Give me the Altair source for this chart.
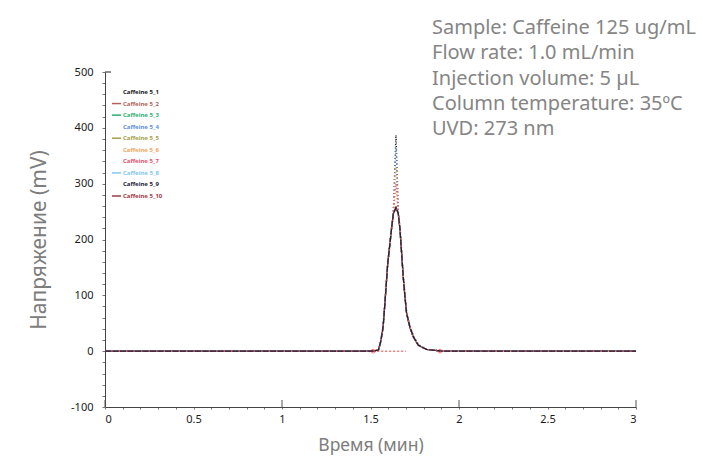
import altair as alt
import pandas as pd

# ---------------- data ----------------
names = ["Caffeine 5_1", "Caffeine 5_2", "Caffeine 5_3", "Caffeine 5_4", "Caffeine 5_5",
         "Caffeine 5_6", "Caffeine 5_7", "Caffeine 5_8", "Caffeine 5_9", "Caffeine 5_10"]

time = [0.0, 1.50, 1.52, 1.545, 1.557, 1.567, 1.572, 1.582, 1.597, 1.61, 1.62, 1.629, 1.644,
        1.657, 1.667, 1.676, 1.685, 1.695, 1.704, 1.723, 1.742, 1.77, 1.817, 1.893, 1.92, 3.0]

s1 = [0, 0, 0.5, 2, 16, 34, 46, 88, 155, 193, 222, 246, 387, 247, 217, 175, 133, 97, 68, 43, 26, 11, 3, 0.5, 0, 0]
s2 = [0, 0, 0.4, 2, 15, 33, 45, 87, 154, 192, 221, 245, 256, 246, 216, 174, 132, 96, 67, 42, 25, 11, 3, 0.5, 0, 0]
s3 = [0, 0, 0.5, 2, 16, 34, 46, 89, 156, 194, 223, 247, 258, 248, 218, 176, 134, 98, 68, 43, 26, 11, 3, 0.5, 0, 0]
s4 = [0, 0, 0.5, 2, 16, 34, 47, 89, 156, 193, 223, 246, 365, 247, 217, 175, 133, 97, 68, 43, 26, 11, 3, 0.5, 0, 0]
s5 = [0, 0, 0.4, 2, 15, 33, 45, 88, 155, 192, 222, 246, 257, 246, 216, 175, 132, 96, 67, 42, 26, 11, 3, 0.5, 0, 0]
s6 = [0, 0, 0.5, 2, 16, 34, 46, 88, 155, 193, 222, 246, 330, 247, 217, 175, 133, 97, 68, 43, 26, 11, 3, 0.5, 0, 0]
s7 = [0, 0, 0.6, 3, 19, 37, 50, 92, 160, 197, 226, 249, 300, 250, 221, 180, 138, 101, 71, 45, 28, 12, 3, 0.6, 0, 0]
s8 = [0, 0, 0.5, 2, 16, 34, 46, 88, 155, 193, 222, 246, 257, 247, 217, 175, 133, 97, 68, 43, 26, 11, 3, 0.5, 0, 0]
s9 = [0, 0, 0.5, 2, 16, 34, 46, 88, 155, 193, 222, 246, 257, 247, 217, 175, 133, 97, 68, 43, 26, 11, 3, 0.5, 0, 0]
s10 = [0, 0, 0.6, 2.5, 18, 35, 48, 90, 157, 195, 224, 247, 258, 246, 215, 172, 130, 95, 66, 42, 25, 10, 3, 0.5, 0, 0]
series_values = [s1, s2, s3, s4, s5, s6, s7, s8, s9, s10]

# integration baseline (peak start / end)
peak_start = [1.515]
peak_end = [1.70]
peak_marks = [1.515, 1.893]

x_ticks = [round(i * 0.1, 1) for i in range(0, 31)]
x_major = [0, 1, 2, 3]
y_ticks = list(range(-100, 501, 20))

info_text = ["Sample: Caffeine 125 ug/mL", "Flow rate: 1.0 mL/min", "Injection volume: 5 µL",
             "Column temperature: 35ºC", "UVD: 273 nm"]

# ---------------- styles ----------------
colors = ["#151515", "#b45f5a", "#2fae72", "#5b8fdc", "#a3a046",
          "#f4a55c", "#ea4f6c", "#7fc8f2", "#20203a", "#a23848"]
dotted = [True, False, False, True, False, True, True, False, False, False]

rows = []
for n, vals in zip(names, series_values):
    for t, v in zip(time, vals):
        rows.append({"t": t, "v": v, "series": n})
df = pd.DataFrame(rows)

cscale = alt.Scale(domain=names, range=colors)
xscale = alt.Scale(domain=[0, 3], nice=False)
yscale = alt.Scale(domain=[-100, 500], nice=False)

solid_names = [n for n, d in zip(names, dotted) if not d and n != "Caffeine 5_9"]
dot_names = [n for n, d in zip(names, dotted) if d]

label_expr_x = "(round(datum.value*10) % 5 == 0) ? '' + round(datum.value*10)/10 : ''"
label_expr_y = "(round(datum.value) % 100 == 0) ? '' + round(datum.value) : ''"

x_axis = alt.Axis(values=x_ticks, labelExpr=label_expr_x, title="Время (мин)",
                  grid=False, tickSize=2, labelOverlap=False, labelPadding=4,
                  labelFontSize=11, labelFont="Noto Sans", labelColor="#1a1a1a",
                  titleFontSize=17.5, titleFont="Noto Sans", titleColor="#7d7d7d",
                  titleFontWeight="normal", titlePadding=12,
                  domainColor="#444", tickColor="#777")
y_axis = alt.Axis(values=y_ticks, labelExpr=label_expr_y, title="Напряжение (mV)",
                  grid=False, tickSize=3, labelOverlap=False, labelPadding=9,
                  labelFontSize=11, labelFont="Noto Sans", labelColor="#1a1a1a",
                  titleFontSize=21, titleFont="Noto Sans", titleColor="#7d7d7d",
                  titleFontWeight="normal", titlePadding=21,
                  domainColor="#444", tickColor="#777")

base = alt.Chart(df).encode(
    x=alt.X("t:Q", scale=xscale, axis=x_axis),
    y=alt.Y("v:Q", scale=yscale, axis=y_axis),
    color=alt.Color("series:N", scale=cscale, legend=None),
    detail="series:N",
)

solid_layer = base.transform_filter(
    alt.FieldOneOfPredicate(field="series", oneOf=solid_names)
).mark_line(strokeWidth=1.2)

dot_layer = base.transform_filter(
    alt.FieldOneOfPredicate(field="series", oneOf=dot_names)
).mark_line(strokeWidth=1.5, strokeDash=[1, 2.5])

top_layer = base.transform_filter(
    alt.datum.series == "Caffeine 5_9"
).mark_line(strokeWidth=1.2, strokeDash=[6, 1.5])

# integration baseline
ib = alt.Chart(pd.DataFrame({"t": peak_start, "t2": peak_end, "v": [0]})).mark_rule(
    color="#ff3030", strokeDash=[2, 2], strokeWidth=1
).encode(x=alt.X("t:Q", scale=xscale, axis=x_axis), x2="t2:Q",
         y=alt.Y("v:Q", scale=yscale, axis=y_axis))

im = alt.Chart(pd.DataFrame({"t": peak_marks, "v": [0, 0]})).mark_point(
    color="#ff3030", size=14, filled=False, strokeWidth=1
).encode(x=alt.X("t:Q", scale=xscale, axis=x_axis), y=alt.Y("v:Q", scale=yscale, axis=y_axis))

# inward major ticks
xt = alt.Chart(pd.DataFrame({"t": x_major})).mark_rule(color="#555", strokeWidth=1).encode(
    x=alt.X("t:Q", scale=xscale, axis=x_axis), y=alt.value(335), y2=alt.value(328))
yt = alt.Chart(pd.DataFrame({"v": [500]})).mark_rule(color="#444", strokeWidth=1.2).encode(
    y=alt.Y("v:Q", scale=yscale, axis=y_axis), x=alt.value(0), x2=alt.value(6))

# manual legend
leg_df = pd.DataFrame({"row": list(range(10)), "label": names, "color": colors,
                       "line": [not d and n != "Caffeine 5_9" for n, d in zip(names, dotted)]})
leg_y = alt.Y("row:Q", scale=alt.Scale(domain=[0, 9], range=[20, 124]), axis=None)
leg_lines = alt.Chart(leg_df).transform_filter(alt.datum.line).mark_rule(strokeWidth=1.5).encode(
    y=leg_y, x=alt.value(7), x2=alt.value(16), color=alt.Color("color:N", scale=None))
leg_text = alt.Chart(leg_df).mark_text(align="left", baseline="middle", fontSize=6,
                                       font="Noto Sans", fontWeight="bold").encode(
    y=leg_y, x=alt.value(18), text="label:N", color=alt.Color("color:N", scale=None))

# info text
info = alt.Chart(pd.DataFrame({"txt": ["\n".join(info_text)]})).mark_text(
    align="left", baseline="top", fontSize=20, font="Noto Sans", color="#858585",
    lineBreak="\n", lineHeight=25.3
).encode(text="txt:N", x=alt.value(327), y=alt.value(-54))

data_layers = alt.layer(solid_layer, dot_layer, ib, im, top_layer, xt, yt, info)
legend_layers = alt.layer(leg_lines, leg_text)

chart = alt.layer(data_layers, legend_layers).resolve_scale(
    y="independent", color="independent"
).properties(
    width=531, height=335,
    background="white",
    autosize=alt.AutoSizeParams(type="none"),
    padding={"left": 105, "top": 72, "right": 67, "bottom": 53},
).configure_view(stroke=None).configure_axis(labelOverlap=False)

chart.save("out.html", embed_options={"renderer": "svg", "actions": False})
